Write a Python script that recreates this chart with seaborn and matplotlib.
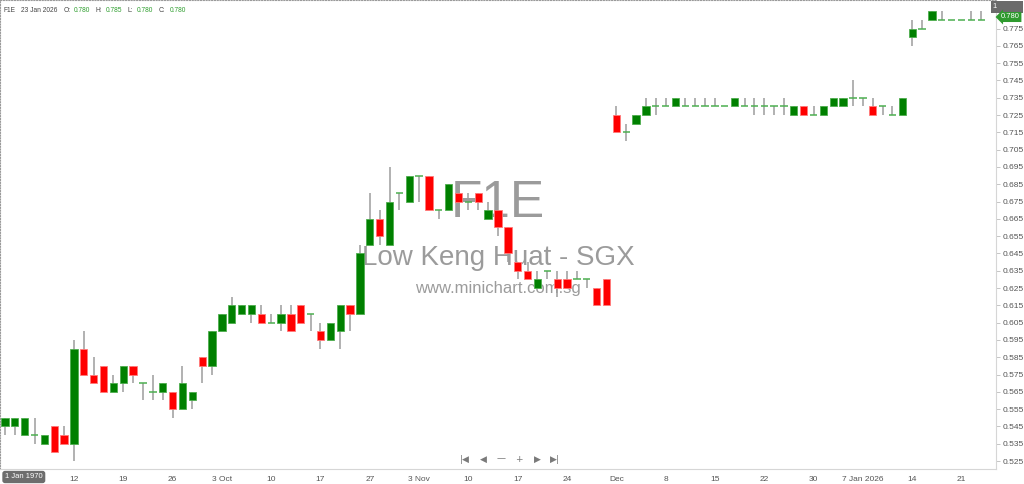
import numpy as np
import pandas as pd
import matplotlib
matplotlib.use("Agg")
import matplotlib.pyplot as plt
import seaborn as sns

# daily OHLC for F1E, 3 Sep 2025 .. 23 Jan 2026
opens = [0.545, 0.545, 0.540, 0.540, 0.535, 0.545, 0.540, 0.535, 0.590, 0.575,
         0.580, 0.565, 0.570, 0.580, 0.570, 0.565, 0.565, 0.565, 0.555, 0.560,
         0.585, 0.580, 0.600, 0.605, 0.610, 0.610, 0.610, 0.605, 0.605, 0.610,
         0.615, 0.610, 0.600, 0.595, 0.600, 0.615, 0.610, 0.650, 0.665, 0.650,
         0.680, 0.675, 0.690, 0.690, 0.670, 0.670, 0.680, 0.675, 0.680, 0.665,
         0.670, 0.660, 0.640, 0.635, 0.625, 0.635, 0.630, 0.630, 0.630, 0.630,
         0.625, 0.630, 0.725, 0.715, 0.720, 0.725, 0.730, 0.730, 0.730, 0.730,
         0.730, 0.730, 0.730, 0.730, 0.730, 0.730, 0.730, 0.730, 0.730, 0.730,
         0.725, 0.730, 0.725, 0.725, 0.730, 0.730, 0.735, 0.735, 0.730, 0.730,
         0.725, 0.725, 0.770, 0.775, 0.780, 0.780, 0.780, 0.780, 0.780, 0.780]
highs = [0.550, 0.550, 0.550, 0.550, 0.540, 0.545, 0.545, 0.595, 0.600, 0.585,
         0.580, 0.575, 0.580, 0.580, 0.570, 0.575, 0.570, 0.565, 0.580, 0.565,
         0.585, 0.600, 0.610, 0.620, 0.615, 0.615, 0.615, 0.610, 0.615, 0.615,
         0.615, 0.610, 0.605, 0.605, 0.615, 0.615, 0.650, 0.680, 0.670, 0.695,
         0.680, 0.690, 0.690, 0.690, 0.670, 0.685, 0.680, 0.680, 0.680, 0.675,
         0.670, 0.660, 0.640, 0.640, 0.635, 0.635, 0.635, 0.635, 0.635, 0.630,
         0.625, 0.630, 0.730, 0.720, 0.725, 0.735, 0.735, 0.735, 0.735, 0.735,
         0.735, 0.735, 0.735, 0.730, 0.735, 0.735, 0.735, 0.735, 0.730, 0.735,
         0.730, 0.730, 0.730, 0.730, 0.735, 0.735, 0.745, 0.735, 0.735, 0.730,
         0.730, 0.735, 0.780, 0.780, 0.785, 0.785, 0.780, 0.780, 0.785, 0.785]
lows = [0.540, 0.540, 0.540, 0.535, 0.535, 0.530, 0.535, 0.525, 0.575, 0.570,
        0.565, 0.565, 0.565, 0.570, 0.560, 0.560, 0.560, 0.550, 0.555, 0.555,
        0.570, 0.575, 0.600, 0.605, 0.610, 0.605, 0.605, 0.605, 0.600, 0.600,
        0.605, 0.600, 0.590, 0.595, 0.590, 0.600, 0.610, 0.650, 0.650, 0.650,
        0.670, 0.675, 0.675, 0.670, 0.665, 0.670, 0.675, 0.670, 0.670, 0.665,
        0.655, 0.640, 0.630, 0.630, 0.625, 0.630, 0.620, 0.625, 0.630, 0.625,
        0.615, 0.615, 0.715, 0.710, 0.720, 0.725, 0.725, 0.730, 0.730, 0.730,
        0.730, 0.730, 0.730, 0.730, 0.730, 0.730, 0.725, 0.725, 0.725, 0.725,
        0.725, 0.725, 0.725, 0.725, 0.730, 0.730, 0.730, 0.730, 0.725, 0.725,
        0.725, 0.725, 0.765, 0.775, 0.780, 0.780, 0.780, 0.780, 0.780, 0.780]
closes = [0.550, 0.550, 0.550, 0.540, 0.540, 0.530, 0.535, 0.590, 0.575, 0.570,
          0.565, 0.570, 0.580, 0.575, 0.570, 0.565, 0.570, 0.555, 0.570, 0.565,
          0.580, 0.600, 0.610, 0.615, 0.615, 0.615, 0.605, 0.605, 0.610, 0.600,
          0.605, 0.610, 0.595, 0.605, 0.615, 0.610, 0.645, 0.665, 0.655, 0.675,
          0.680, 0.690, 0.690, 0.670, 0.670, 0.685, 0.675, 0.675, 0.675, 0.670,
          0.660, 0.645, 0.635, 0.630, 0.630, 0.635, 0.625, 0.625, 0.630, 0.630,
          0.615, 0.615, 0.715, 0.715, 0.725, 0.730, 0.730, 0.730, 0.735, 0.730,
          0.730, 0.730, 0.730, 0.730, 0.735, 0.730, 0.730, 0.730, 0.730, 0.730,
          0.730, 0.725, 0.725, 0.730, 0.735, 0.735, 0.735, 0.735, 0.725, 0.730,
          0.725, 0.735, 0.775, 0.775, 0.785, 0.780, 0.780, 0.780, 0.780, 0.780]

# x labels, one every 5 sessions starting at the 8th candle (12 Sep)
tick_labels = ["12", "19", "26", "3 Oct", "10", "17", "27", "3 Nov", "10", "17",
               "24", "Dec", "8", "15", "22", "30", "7 Jan 2026", "14", "21"]
first_tick = 7

df = pd.DataFrame({"open": opens, "high": highs, "low": lows, "close": closes})
df["idx"] = np.arange(len(df))
df["lo_body"] = df[["open", "close"]].min(axis=1)
df["hi_body"] = df[["open", "close"]].max(axis=1)
df["doji"] = np.isclose(df["open"], df["close"])
df["up"] = df["close"] > df["open"]

sns.set_theme(style="white")
plt.rcParams["font.family"] = ["Liberation Sans", "DejaVu Sans"]

W, H = 1024, 484
fig = plt.figure(figsize=(W / 100, H / 100), dpi=100)
ax = fig.add_axes([0, 1 - 469 / H, 996 / W, 469 / H])

# watermark behind the candles
ax.text(0.5, 0.567, "F1E", transform=ax.transAxes, ha="center", va="center",
        fontsize=37, color="#8a8a8a", alpha=0.85, zorder=1)
ax.text(0.5, 0.45, "Low Keng Huat - SGX", transform=ax.transAxes, ha="center",
        va="center", fontsize=20, color="#8a8a8a", alpha=0.85, zorder=1)
ax.text(0.5, 0.384, "www.minichart.com.sg", transform=ax.transAxes, ha="center",
        va="center", fontsize=12, color="#8a8a8a", alpha=0.85, zorder=1)

# wicks
ax.vlines(df["idx"], df["low"], df["high"], color="#9c9c9c", lw=1.1, zorder=2)

# bodies
bw = 0.74
body = df[~df["doji"]]
up = body[body["up"]]
dn = body[~body["up"]]
ax.bar(up["idx"], up["hi_body"] - up["lo_body"], bottom=up["lo_body"], width=bw,
       color="#008000", edgecolor="#4fae4f", lw=0.6, zorder=3)
ax.bar(dn["idx"], dn["hi_body"] - dn["lo_body"], bottom=dn["lo_body"], width=bw,
       color="#ff0000", edgecolor="#ff7a7a", lw=0.6, zorder=3)
dj = df[df["doji"]]
ax.hlines(dj["close"], dj["idx"] - bw / 2, dj["idx"] + bw / 2, color="#4caf50",
          lw=1.1, zorder=3)

ax.set_xlim(-0.5, 100.5)
ax.set_ylim(0.5204, 0.7915)

# axes
ax.yaxis.tick_right()
yt = np.arange(0.525, 0.7751, 0.01)
ax.set_yticks(yt)
ax.set_yticklabels([f"{v:.3f}" for v in yt])
xt = first_tick + 5 * np.arange(len(tick_labels))
ax.set_xticks(xt)
ax.set_xticklabels(tick_labels)
ax.tick_params(axis="both", which="both", direction="out", length=3, width=0.6,
               color="#bdbdbd", labelsize=6, labelcolor="#555555", pad=2)
ax.grid(False)
for side in ["top", "left"]:
    ax.spines[side].set_linestyle((0, (1, 1.5)))
    ax.spines[side].set_color("#9a9a9a")
    ax.spines[side].set_linewidth(0.8)
for side in ["right", "bottom"]:
    ax.spines[side].set_color("#d6d6d6")
    ax.spines[side].set_linewidth(0.8)

# header line
def fx(px):
    return px / W

def fy(py):
    return 1 - py / H

hdr = [(4, "F1E", "#444444"), (21, "23 Jan 2026", "#444444"),
       (64, "O:", "#444444"), (74, "0.780", "#2e9e2e"),
       (95, "H:", "#444444"), (106, "0.785", "#2e9e2e"),
       (128, "L:", "#444444"), (137, "0.780", "#2e9e2e"),
       (159, "C:", "#444444"), (170, "0.780", "#2e9e2e")]
for px, s, c in hdr:
    fig.text(fx(px), fy(10), s, fontsize=4.8, color=c, va="center", ha="left")

# top right boxes
fig.text(fx(993), fy(7), "1" + " " * 11, fontsize=5.5, color="white", va="center",
         ha="left", bbox=dict(boxstyle="square,pad=0.3", fc="#6b6b6b", ec="none"))
fig.text(fx(1001), fy(17), "0.780", fontsize=5.5, color="white", va="center",
         ha="left", bbox=dict(boxstyle="larrow,pad=0.2", fc="#2e9a2e", ec="none"))

# bottom-left date box
fig.text(fx(5), fy(477), "1 Jan 1970", fontsize=5.5, color="white", va="center",
         ha="left", bbox=dict(boxstyle="round,pad=0.35", fc="#6d6d6d", ec="none"))

# navigation buttons
for px, s in [(465, "|◀"), (483, "◀"), (501, "—"), (519, "+"), (537, "▶"), (555, "▶|")]:
    fig.text(fx(px), fy(459), s, fontsize=6.5, color="#7a7a7a", va="center",
             ha="center", family=["DejaVu Sans"])

fig.savefig("out.png", dpi=100)
